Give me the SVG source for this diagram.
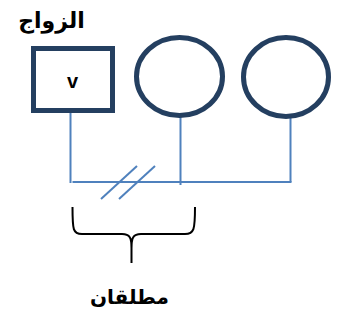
<svg xmlns="http://www.w3.org/2000/svg" width="340" height="322" viewBox="0 0 340 322">
  <style>
    .shape { fill: #ffffff; stroke: #243F60; stroke-width: 5; }
    .link { fill: none; stroke: #4F81BD; stroke-width: 2; }
    .brace { fill: none; stroke: #000000; stroke-width: 2; }
    .label { font-family: "DejaVu Sans", "Liberation Sans", sans-serif; font-weight: bold; fill: #000000; text-anchor: middle; }
    .mark { font-family: "Liberation Sans", Arial, sans-serif; font-weight: bold; font-size: 20px; fill: #000000; text-anchor: middle; }
  </style>

  <!-- heading over the square -->
  <text class="label" x="51.5" y="28" font-size="22" direction="rtl">الزواج</text>

  <!-- connectors -->
  <g id="connectors">
    <line class="link" x1="70.5" y1="112" x2="70.5" y2="183"/>
    <line class="link" x1="180.5" y1="116" x2="180.5" y2="185"/>
    <line class="link" x1="290.5" y1="117" x2="290.5" y2="182"/>
    <line class="link" x1="72.5" y1="182" x2="291.5" y2="182"/>
    <!-- double slash: divorced pair -->
    <line class="link" x1="101" y1="199" x2="137" y2="166"/>
    <line class="link" x1="119" y1="199" x2="155" y2="166"/>
  </g>

  <g id="node-husband">
    <rect class="shape" x="33.5" y="48.5" width="79" height="62"/>
    <text class="mark" x="72.5" y="88">v</text>
  </g>

  <g id="node-wife1">
    <ellipse class="shape" cx="179.5" cy="76.5" rx="43" ry="39"/>
  </g>

  <g id="node-wife2">
    <ellipse class="shape" cx="286" cy="77" rx="42.5" ry="39.5"/>
  </g>

  <!-- brace grouping the divorced pair -->
  <g id="brace">
    <path class="brace" d="M72.5,207 C72.5,230 73,234 82,234 L122,234 C130,234 131.5,238 131.5,248 L131.5,263 M131.5,248 C131.5,238 133,234 141,234 L185,234 C194,234 195,230 195,207"/>
  </g>

  <text class="label" x="129.5" y="304" font-size="20" direction="rtl">مطلقان</text>
</svg>
